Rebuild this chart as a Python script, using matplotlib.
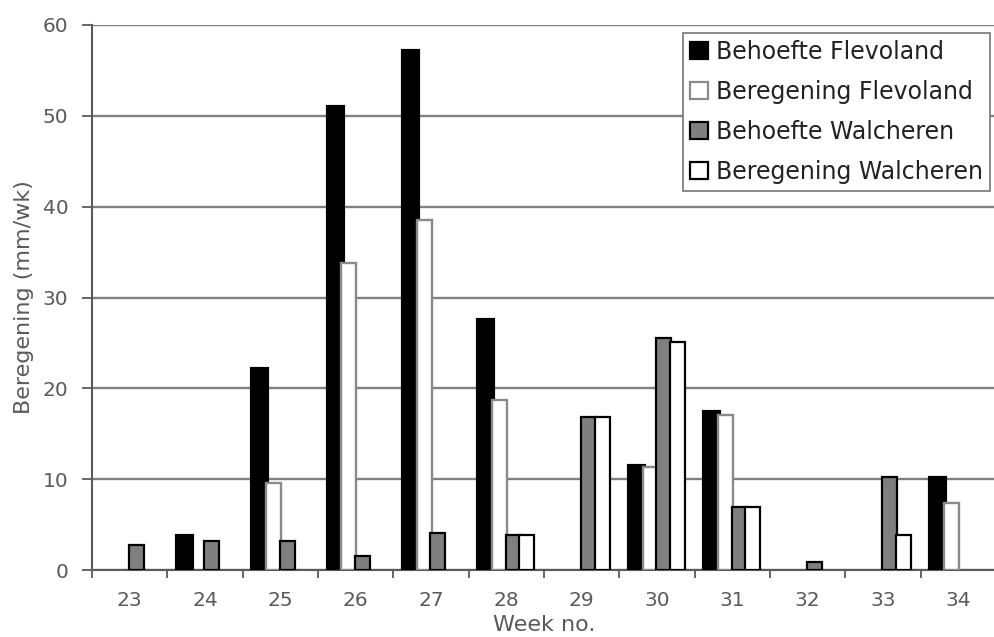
import numpy as np
import matplotlib
matplotlib.use("Agg")
import matplotlib.pyplot as plt

weeks = ["23", "24", "25", "26", "27", "28", "29", "30", "31", "32", "33", "34"]
behoefte_flevoland = [0, 3.7, 22.1, 51.0, 57.1, 27.5, 0, 11.4, 17.4, 0, 0, 10.1]
beregening_flevoland = [0, 0, 9.6, 33.8, 38.5, 18.7, 0, 11.3, 17.1, 0, 0, 7.4]
behoefte_walcheren = [2.8, 3.2, 3.2, 1.5, 4.1, 3.8, 16.8, 25.5, 6.9, 0.9, 10.2, 0]
beregening_walcheren = [0, 0, 0, 0, 0, 3.8, 16.8, 25.1, 6.9, 0, 3.8, 0]

series = [
    ("Behoefte Flevoland", behoefte_flevoland, "#000000", "#000000", 3.0),
    ("Beregening Flevoland", beregening_flevoland, "#ffffff", "#8a8a8a", 1.7),
    ("Behoefte Walcheren", behoefte_walcheren, "#7f7f7f", "#000000", 1.6),
    ("Beregening Walcheren", beregening_walcheren, "#ffffff", "#000000", 1.6),
]

GRAY = "#5a5a5a"
fig = plt.figure(figsize=(9.95, 6.37), dpi=100)
W, H = 995, 637
ax = fig.add_axes([92 / W, (H - 570) / H, (996 - 92) / W, (570 - 25) / H])

x = np.arange(len(weeks))
step = 0.182
width = 0.20
for i, (name, vals, fc, ec, lw) in enumerate(series):
    vals = np.asarray(vals, dtype=float)
    keep = vals > 0  # weeks without a value get no bar
    ax.bar(x[keep] + (i - 1.5) * step, vals[keep], width=width, color=fc,
           edgecolor=ec, linewidth=lw, label=name, zorder=3 + i)

ax.set_xlim(-0.5, len(weeks) - 0.5)
ax.set_ylim(0, 60)
ax.set_yticks(np.arange(0, 61, 10))
ax.yaxis.grid(True, color="#808080", linewidth=1.7, zorder=0)
ax.set_axisbelow(True)

# category boundaries carry the tick marks, labels sit in the middle
ax.set_xticks(np.arange(-0.5, len(weeks), 1.0))
ax.set_xticklabels([])
ax.set_xticks(x, minor=True)
ax.set_xticklabels(weeks, minor=True)
ax.tick_params(axis="x", which="major", length=6, width=1.3, color=GRAY, direction="out")
ax.tick_params(axis="x", which="minor", length=0, labelsize=14.5, labelcolor=GRAY, pad=15)
ax.tick_params(axis="y", length=7, width=1.3, color=GRAY, labelsize=14.5,
               labelcolor=GRAY, pad=10)

for s in ("top", "right"):
    ax.spines[s].set_visible(False)
for s in ("left", "bottom"):
    ax.spines[s].set_color(GRAY)
    ax.spines[s].set_linewidth(1.5)

ax.set_ylabel("Beregening (mm/wk)", fontsize=16, color=GRAY, labelpad=6)
ax.set_xlabel("Week no.", fontsize=16, color=GRAY, labelpad=4)

leg = ax.legend(loc="upper left", bbox_to_anchor=(683 / W, 1 - 33 / H),
                bbox_transform=fig.transFigure, fontsize=17, frameon=True,
                fancybox=False, edgecolor="#808080", framealpha=1,
                handlelength=0.75, handleheight=0.75, handletextpad=0.35,
                labelspacing=0.67, borderpad=0.3, borderaxespad=0)
leg.get_frame().set_linewidth(1.3)
for t in leg.get_texts():
    t.set_color("#222222")
for h in leg.legend_handles:
    h.set_linewidth(1.6)

fig.savefig("out.png", dpi=100)
